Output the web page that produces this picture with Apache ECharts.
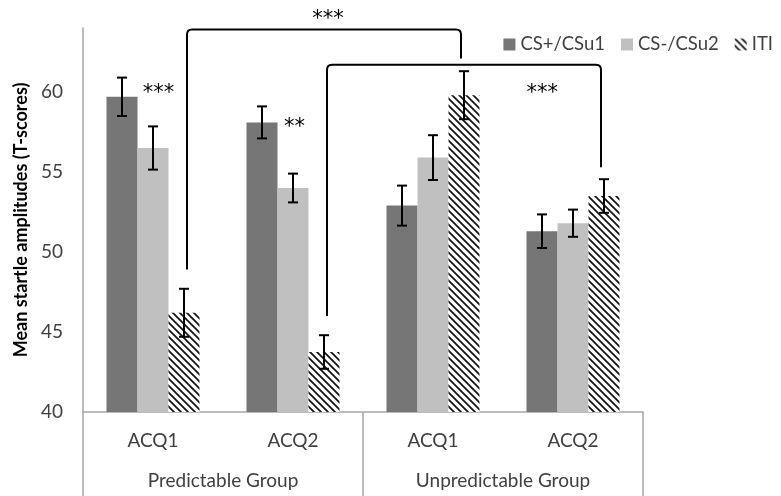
<!DOCTYPE html>
<html>
<head>
<meta charset="utf-8">
<script src="https://cdn.jsdelivr.net/npm/echarts@6/dist/echarts.min.js"></script>
<style>
  html, body { margin: 0; padding: 0; background: #fff; }
  #chart { width: 781px; height: 496px; }
</style>
</head>
<body>
<div id="chart"></div>
<script>
// 数据
const categories = ['ACQ1', 'ACQ2', 'ACQ1', 'ACQ2']
const groups = ['Predictable Group', 'Unpredictable Group']
const seriesNames = ['CS+/CSu1', 'CS-/CSu2', 'ITI']
const csPlus = [59.7, 58.1, 52.9, 51.3]
const csMinus = [56.5, 54.0, 55.9, 51.8]
const iti = [46.2, 43.75, 59.8, 53.5]
const errPlus = [1.2, 1.0, 1.25, 1.05]
const errMinus = [1.35, 0.9, 1.4, 0.85]
const errIti = [1.5, 1.05, 1.5, 1.05]
const yTicks = [40, 45, 50, 55, 60]
// brackets: [fromCat, toCat, top, leftEnd, rightEnd] (ITI bars)
const brackets = [
  [0, 2, 63.9, 48.9, 62.1],
  [1, 3, 61.7, 46.0, 55.3]
]
// stars: [x (category units), y, text]
const stars = [
  [0.04, 59.9, '***'],
  [1.01, 57.8, '**'],
  [1.25, 64.5, '***'],
  [2.78, 59.9, '***']
]

const FONT = 'Lato'
const BAR_W = 31

// 斜线填充
function hatch() {
  const s = 7
  const c = document.createElement('canvas')
  c.width = s; c.height = s
  const ctx = c.getContext('2d')
  ctx.fillStyle = '#fff'
  ctx.fillRect(0, 0, s, s)
  ctx.strokeStyle = '#111'
  ctx.lineWidth = 1.7
  ctx.beginPath()
  ctx.moveTo(-1, -1); ctx.lineTo(s + 1, s + 1)
  ctx.moveTo(-1, s - 1); ctx.lineTo(1, s + 1)
  ctx.moveTo(s - 1, -1); ctx.lineTo(s + 1, 1)
  ctx.stroke()
  return { image: c, repeat: 'repeat' }
}

const values = [csPlus, csMinus, iti]
const errs = [errPlus, errMinus, errIti]
const colors = ['#767676', '#c0c0c0', hatch()]

const errData = []
values.forEach((vals, s) => {
  vals.forEach((v, i) => errData.push([i, s, v, errs[s][i]]))
})

const chart = echarts.init(document.getElementById('chart'))

const option = {
  animation: false,
  textStyle: { fontFamily: FONT },
  legend: {
    right: 3, top: 30,
    itemWidth: 12, itemHeight: 12, itemGap: 16,
    icon: 'rect',
    data: seriesNames,
    textStyle: { fontFamily: FONT, fontSize: 18.5, color: '#404040' }
  },
  grid: { left: 83, right: 138, top: 28, bottom: 84 },
  xAxis: [
    {
      type: 'category', data: categories, position: 'bottom',
      axisLine: { lineStyle: { color: '#a6a6a6', width: 1.5 } },
      axisTick: { show: false },
      axisLabel: { margin: 19, fontSize: 19, color: '#404040', fontFamily: FONT }
    },
    {
      type: 'category', data: groups, position: 'bottom',
      axisLine: { show: false },
      axisTick: { show: true, length: 84, lineStyle: { color: '#a6a6a6', width: 1.5 } },
      axisLabel: { margin: 59, fontSize: 19, color: '#404040', fontFamily: FONT }
    },
    { type: 'value', min: -0.5, max: 3.5, show: false, position: 'top' }
  ],
  yAxis: {
    type: 'value', min: 40, max: 64, interval: 5,
    name: 'Mean startle amplitudes (T-scores)',
    nameLocation: 'middle', nameGap: 52,
    nameTextStyle: { fontFamily: FONT, fontSize: 18, fontWeight: 'bold', color: '#000' },
    axisLine: { show: true, onZero: false, lineStyle: { color: '#a6a6a6', width: 1.5 } },
    axisTick: { show: false },
    splitLine: { show: false },
    axisLabel: {
      margin: 20, fontSize: 19, color: '#404040', fontFamily: FONT,
      formatter: v => (yTicks.indexOf(v) >= 0 ? String(v) : '')
    }
  },
  series: [
    ...seriesNames.map((name, s) => ({
      name, type: 'bar', data: values[s],
      xAxisIndex: 0,
      barWidth: BAR_W, barGap: '0%',
      itemStyle: { color: colors[s] }
    })),
    {
      type: 'custom', name: 'err', xAxisIndex: 0, data: errData, clip: false, z: 5,
      renderItem: function (params, api) {
        const i = api.value(0), s = api.value(1), v = api.value(2), e = api.value(3)
        const off = (s - 1) * BAR_W
        const top = api.coord([i, v + e]), bot = api.coord([i, v - e])
        const x = top[0] + off, cw = 5
        const st = { stroke: '#000', lineWidth: 2 }
        return {
          type: 'group', children: [
            { type: 'line', shape: { x1: x, y1: top[1], x2: x, y2: bot[1] }, style: st },
            { type: 'line', shape: { x1: x - cw, y1: top[1], x2: x + cw, y2: top[1] }, style: st },
            { type: 'line', shape: { x1: x - cw, y1: bot[1], x2: x + cw, y2: bot[1] }, style: st }
          ]
        }
      }
    },
    {
      type: 'custom', name: 'brackets', xAxisIndex: 2, data: brackets, clip: false, z: 6,
      renderItem: function (params, api) {
        const b = brackets[params.dataIndex]
        const off = BAR_W
        const x1 = api.coord([b[0], b[2]])[0] + off + 3
        const x2 = api.coord([b[1], b[2]])[0] + off - 3
        const yt = api.coord([b[0], b[2]])[1]
        const yl = api.coord([b[0], b[3]])[1]
        const yr = api.coord([b[1], b[4]])[1]
        const r = 5
        const d = 'M' + x1 + ' ' + yl + ' L' + x1 + ' ' + (yt + r) +
          ' Q' + x1 + ' ' + yt + ' ' + (x1 + r) + ' ' + yt +
          ' L' + (x2 - r) + ' ' + yt +
          ' Q' + x2 + ' ' + yt + ' ' + x2 + ' ' + (yt + r) +
          ' L' + x2 + ' ' + yr
        return { type: 'path', shape: { pathData: d }, style: { stroke: '#000', lineWidth: 2, fill: null } }
      }
    },
    {
      type: 'custom', name: 'stars', xAxisIndex: 2, data: stars.map(s => [s[0], s[1]]), clip: false, z: 6,
      renderItem: function (params, api) {
        const p = api.coord([api.value(0), api.value(1)])
        return {
          type: 'text', x: p[0], y: p[1],
          style: {
            text: stars[params.dataIndex][2], fill: '#000',
            font: '21px "DejaVu Sans"', align: 'center', verticalAlign: 'middle'
          }
        }
      }
    }
  ]
}

option && chart.setOption(option, true)
window.addEventListener('resize', function () {
  chart.resize()
})
</script>
</body>
</html>
